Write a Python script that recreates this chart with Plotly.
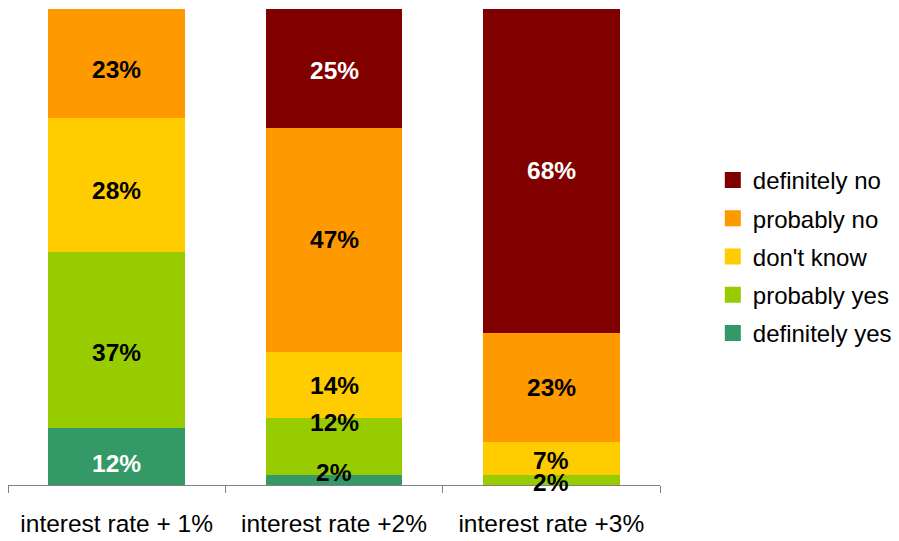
import plotly.graph_objects as go

categories = ["interest rate + 1%", "interest rate +2%", "interest rate +3%"]
series_names = ["definitely yes", "probably yes", "don't know", "probably no", "definitely no"]
definitely_yes = [12, 2, 0]
probably_yes = [37, 12, 2]
dont_know = [28, 14, 7]
probably_no = [23, 47, 23]
definitely_no = [0, 25, 68]
series_values = [definitely_yes, probably_yes, dont_know, probably_no, definitely_no]
colors = ["#339966", "#99CC00", "#FFCC00", "#FF9900", "#800000"]
label_colors = ["white", "black", "black", "black", "white"]

FONT = "Liberation Sans, Arial, sans-serif"
fig = go.Figure()

for name, vals, col in zip(series_names, series_values, colors):
    fig.add_trace(go.Bar(
        x=categories, y=vals, name=name, marker=dict(color=col, line=dict(width=0)),
        showlegend=False, width=0.63, hoverinfo="skip"))

# legend entries (larger squares), top to bottom: definitely no ... definitely yes
for name, col in reversed(list(zip(series_names, colors))):
    fig.add_trace(go.Scatter(
        x=[None], y=[None], mode="markers", name=name, legendgroup=name,
        marker=dict(symbol="square", size=16, color=col, line=dict(width=0))))

# value labels (small pixel nudges mimic the original label placement)
nudges = {(0, 0): -7, (0, 1): -13, (0, 2): -5, (0, 3): -6,
          (1, 0): 8, (1, 1): 24, (1, 4): -2,
          (2, 1): -2, (2, 2): -2}
for ci, cat in enumerate(categories):
    base = 0
    for si, vals in enumerate(series_values):
        v = vals[ci]
        if v > 0:
            col = label_colors[si] if v >= 5 else "black"
            fig.add_annotation(
                x=cat, y=base + v / 2, text="<b>%d%%</b>" % v, showarrow=False,
                font=dict(family=FONT, size=24.5, color=col),
                yshift=nudges.get((ci, si), 0))
        base += v

fig.update_layout(
    barmode="stack", bargap=0.37,
    width=899, height=541,
    margin=dict(l=8, r=239, t=9, b=56, autoexpand=False),
    plot_bgcolor="white", paper_bgcolor="rgba(0,0,0,0)",
    font=dict(family=FONT, size=24, color="black"),
    legend=dict(x=1.081, xanchor="left", y=0.48, yanchor="middle",
                traceorder="grouped", tracegroupgap=4,
                bgcolor="rgba(0,0,0,0)",
                font=dict(family=FONT, size=24, color="black"),
                itemsizing="trace"),
    xaxis=dict(showline=True, linecolor="#808080", linewidth=1,
               ticks="outside", tickson="boundaries", ticklen=7, tickcolor="#808080",
               showgrid=False, ticklabelstandoff=17, automargin=False,
               tickfont=dict(family=FONT, size=24.5, color="black")),
    yaxis=dict(range=[0, 100], visible=False, showgrid=False, automargin=False),
)

fig.write_html("out.html")
